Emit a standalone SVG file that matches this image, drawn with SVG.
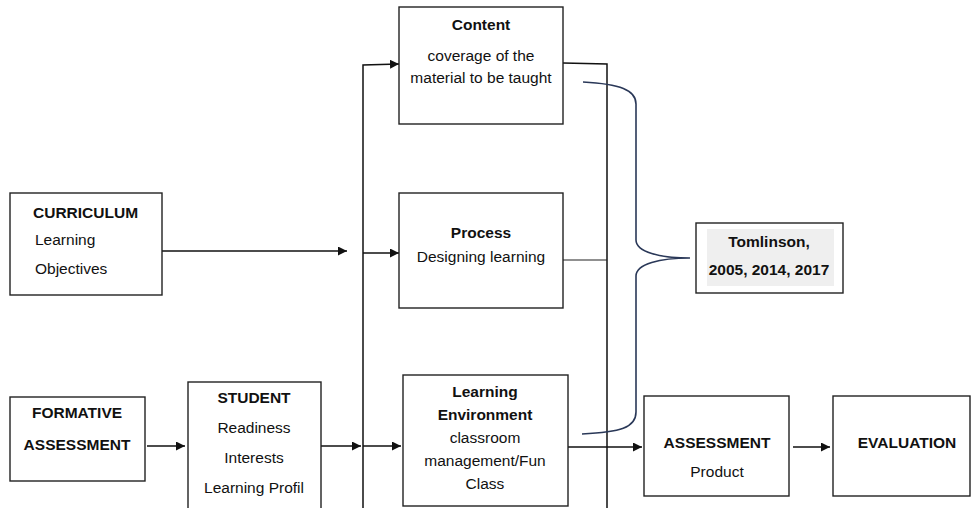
<svg xmlns="http://www.w3.org/2000/svg" width="971" height="508" viewBox="0 0 971 508">
<style>
.box{fill:#fff;stroke:#222;stroke-width:1.4}
.t{font-family:"Liberation Sans",Arial,sans-serif;font-size:15.5px;fill:#111;text-anchor:middle}
.tl{font-family:"Liberation Sans",Arial,sans-serif;font-size:15.5px;fill:#111}
.b{font-weight:bold}
.c{fill:none;stroke:#111;stroke-width:1.5}
.thin{fill:none;stroke:#222;stroke-width:1.2}
.brace{fill:none;stroke:#2a3858;stroke-width:1.6}
</style>
<defs>
<marker id="ah" viewBox="0 0 10 10" refX="10" refY="5" markerWidth="9" markerHeight="9" markerUnits="userSpaceOnUse" orient="auto">
<path d="M0,0 L10,5 L0,10 Z" fill="#111"/>
</marker>
</defs>
<g id="connectors">
<path class="c" d="M162,251 L347,251" marker-end="url(#ah)"/>
<path class="c" d="M363,508 L363,65 L399,64" marker-end="url(#ah)"/>
<path class="c" d="M363,253 L399,253" marker-end="url(#ah)"/>
<path class="c" d="M147,446 L185,446" marker-end="url(#ah)"/>
<path class="c" d="M321,446 L361,446" marker-end="url(#ah)"/>
<path class="c" d="M363,446 L401,446" marker-end="url(#ah)"/>
<path class="c" d="M563,63 L607,64 L607,508"/>
<path class="thin" d="M563,260 L607,260"/>
<path class="c" d="M568,447 L642,447" marker-end="url(#ah)"/>
<path class="c" d="M793,447 L830,447" marker-end="url(#ah)"/>
<path class="brace" d="M583,82 C620,84 636,90 636,104 L636,240 C636,252 660,258 690,258 C660,258 636,264 636,276 L636,412 C636,428 620,432 582,434"/>
</g>
<g id="curriculum">
<rect class="box" x="10" y="193" width="152" height="102"/>
<text class="tl b" x="33" y="218">CURRICULUM</text>
<text class="tl" x="35" y="245">Learning</text>
<text class="tl" x="35" y="274">Objectives</text>
</g>
<g id="content">
<rect class="box" x="399" y="7" width="164" height="117"/>
<text class="t b" x="481" y="30">Content</text>
<text class="t" x="481" y="61">coverage of the</text>
<text class="t" x="481" y="83">material to be taught</text>
</g>
<g id="process">
<rect class="box" x="399" y="193" width="164" height="115"/>
<text class="t b" x="481" y="238">Process</text>
<text class="t" x="481" y="262">Designing learning</text>
</g>
<g id="formative">
<rect class="box" x="10" y="397" width="135" height="84"/>
<text class="t b" x="77" y="418">FORMATIVE</text>
<text class="t b" x="77" y="450">ASSESSMENT</text>
</g>
<g id="student">
<rect class="box" x="188" y="382" width="133" height="130"/>
<text class="t b" x="254" y="403">STUDENT</text>
<text class="t" x="254" y="433">Readiness</text>
<text class="t" x="254" y="463">Interests</text>
<text class="t" x="254" y="493">Learning Profil</text>
</g>
<g id="environment">
<rect class="box" x="403" y="375" width="165" height="131"/>
<text class="t b" x="485" y="397">Learning</text>
<text class="t b" x="485" y="420">Environment</text>
<text class="t" x="485" y="443">classroom</text>
<text class="t" x="485" y="466">management/Fun</text>
<text class="t" x="485" y="489">Class</text>
</g>
<g id="tomlinson">
<rect class="box" x="696" y="223" width="147" height="70"/>
<rect x="707" y="229" width="127" height="57" fill="#efefef"/>
<text class="t b" x="769" y="247">Tomlinson,</text>
<text class="t b" x="769" y="275">2005, 2014, 2017</text>
</g>
<g id="assessment">
<rect class="box" x="644" y="396" width="145" height="100"/>
<text class="t b" x="717" y="448">ASSESSMENT</text>
<text class="t" x="717" y="477">Product</text>
</g>
<g id="evaluation">
<rect class="box" x="833" y="396" width="137" height="100"/>
<text class="t b" x="907" y="448">EVALUATION</text>
</g>
</svg>
